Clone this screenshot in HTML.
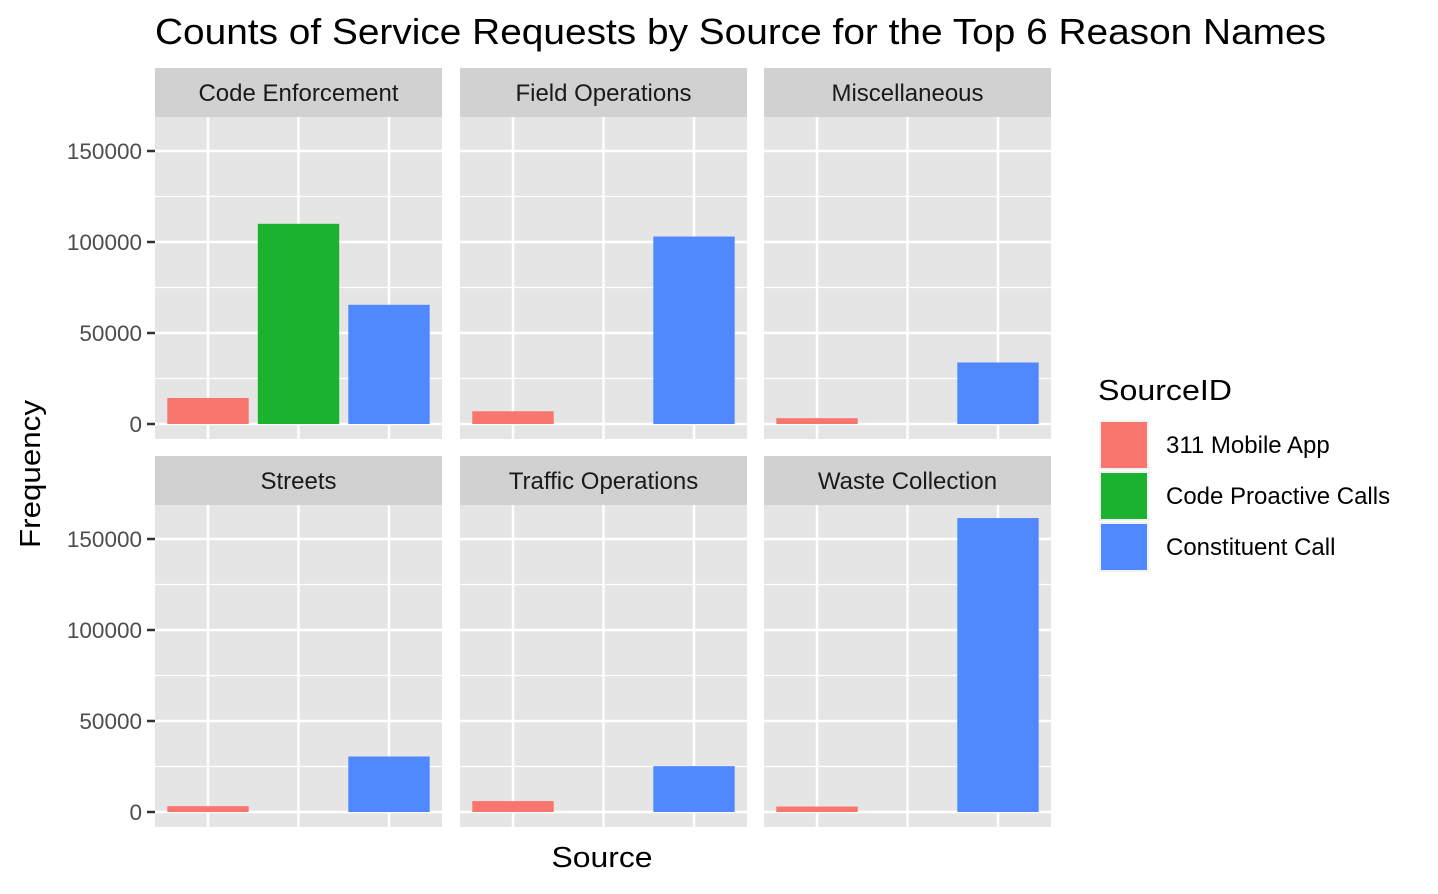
<!DOCTYPE html>
<html><head><meta charset="utf-8"><style>
body{margin:0;background:#fff;}
svg text{font-family:"Liberation Sans",Arial,sans-serif;}
</style></head><body>
<svg id="chart" width="1438" height="889" xmlns="http://www.w3.org/2000/svg">
<text x="155" y="44" font-size="36" textLength="1171" lengthAdjust="spacingAndGlyphs" fill="#000">Counts of Service Requests by Source for the Top 6 Reason Names</text>
<text x="602" y="867" font-size="29" text-anchor="middle" textLength="101" lengthAdjust="spacingAndGlyphs" fill="#000">Source</text>
<text transform="translate(40,474) rotate(-90)" font-size="29" text-anchor="middle" textLength="148" lengthAdjust="spacingAndGlyphs" fill="#000">Frequency</text>
<g id="panels"></g>
<g>
<text x="1098" y="400" font-size="29" textLength="134" lengthAdjust="spacingAndGlyphs" fill="#000">SourceID</text>
<g id="legend-items"></g>
</g>
</svg>
<script>
const facets = ["Code Enforcement","Field Operations","Miscellaneous","Streets","Traffic Operations","Waste Collection"];
const sources = ["311 Mobile App","Code Proactive Calls","Constituent Call"];
const mobileApp = [14300, 7000, 3200, 3200, 6000, 3000];
const proactive = [110000, 0, 0, 0, 0, 0];
const constituent = [65500, 103000, 33800, 30500, 25200, 161500];
const yTicks = [0, 50000, 100000, 150000];
const yTickLabels = ["0","50000","100000","150000"];
const colors = ["#F8766D","#1AB22F","#5088FF"];
const NS = "http://www.w3.org/2000/svg";
const series = [mobileApp, proactive, constituent];
const colX = [155, 460, 764], panelW = 287;
const rowTop = [117, 505], panelH = 322, zeroOff = 307;
const pxPer = 91/50000;
function mk(tag, attrs, parent){const e=document.createElementNS(NS,tag);for(const k in attrs)e.setAttribute(k,attrs[k]);parent.appendChild(e);return e;}
const root = document.getElementById('panels');
facets.forEach((f, i) => {
  const c = i % 3, r = Math.floor(i / 3);
  const x0 = colX[c], y0 = rowTop[r];
  const yScale = v => y0 + zeroOff - v * pxPer;
  const xScale = j => x0 + 53 + j * 90.5;
  const g = mk('g', {}, root);
  
  
  const strip = mk('rect', {x:x0, y:y0-49, width:panelW, height:49, fill:'#d1d1d1'}, g);
  
  
  const st = mk('text', {x:x0+panelW/2, y:y0-16, 'font-size':24, 'text-anchor':'middle', fill:'#1a1a1a'}, g);
  st.textContent = f;
  
  
  const bg = mk('rect', {x:x0, y:y0, width:panelW, height:panelH, fill:'#e5e5e5'}, g);
  
  
  for (let k = 0; k < yTicks.length; k++) {
    const yy = yScale(yTicks[k]);
    const yMinor = yScale(yTicks[k] + 25000);
    if (yMinor > y0) mk('line', {x1:x0, x2:x0+panelW, y1:yMinor, y2:yMinor, stroke:'#fff', 'stroke-width':1.2}, g);
    mk('line', {x1:x0, x2:x0+panelW, y1:yy, y2:yy, stroke:'#fff', 'stroke-width':2.5}, g);
    if (c === 0) {
      mk('line', {x1:x0-8, x2:x0, y1:yy, y2:yy, stroke:'#333', 'stroke-width':2.5}, g);
      const t = mk('text', {x:x0-13, y:yy+8, 'font-size':22.5, 'text-anchor':'end', fill:'#4d4d4d'}, g);
      t.textContent = yTickLabels[k];
      
      
    }
  }
  for (let j = 0; j < 3; j++) mk('line', {x1:xScale(j), x2:xScale(j), y1:y0, y2:y0+panelH, stroke:'#fff', 'stroke-width':2.5}, g);
  series.forEach((s, j) => {
    const v = s[i];
    if (v <= 0) return;
    const b = mk('rect', {x:xScale(j)-40.7, width:81.4, y:yScale(v), height:v*pxPer, fill:colors[j]}, g);
    
    
  });
});
const lg = document.getElementById('legend-items');
sources.forEach((s, j) => {
  const y = 420 + j * 51;
  mk('rect', {x:1099, y:y, width:50, height:50, fill:'#f2f2f2'}, lg);
  const sw = mk('rect', {x:1101, y:y+2, width:46, height:46, fill:colors[j]}, lg);
  
  
  const t = mk('text', {x:1166, y:y+33, 'font-size':24, fill:'#000'}, lg);
  t.textContent = s;
  
  
});
</script>
</body></html>
